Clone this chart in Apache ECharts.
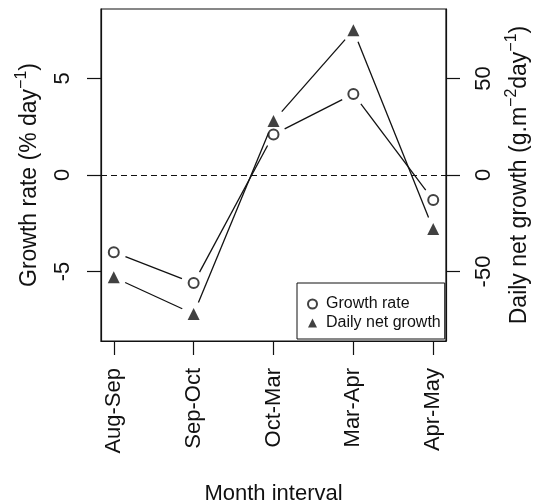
<!DOCTYPE html>
<html><head><meta charset="utf-8">
<script src="https://cdn.jsdelivr.net/npm/echarts@6/dist/echarts.min.js"></script>
<style>html,body{margin:0;padding:0;background:#fff}#c{width:537px;height:504px}</style>
</head><body><div id="c"></div>
<script>
var categories = ['Aug-Sep','Sep-Oct','Oct-Mar','Mar-Apr','Apr-May'];
var growthRate = [-4.0, -5.6, 2.1, 4.2, -1.3];
var dailyNetGrowth = [-53, -72, 28, 75, -28];
var leftTicks = [-5, 0, 5];
var rightTicks = [-50, 0, 50];
var catTicks = [0, 1, 2, 3, 4];

var FONT = 'Liberation Sans, Arial, sans-serif';
var INK = '#111';

function segs(v){ var out=[]; for (var i=0;i<v.length-1;i++) out.push([i, v[i], i+1, v[i+1]]); return out; }
function pts(v){ return v.map(function(y,i){ return [i,y]; }); }
function gapLine(params, api){
  var p1 = api.coord([api.value(0), api.value(1)]);
  var p2 = api.coord([api.value(2), api.value(3)]);
  var dx=p2[0]-p1[0], dy=p2[1]-p1[1], L=Math.sqrt(dx*dx+dy*dy), g=12.5;
  if (L <= 2*g) return null;
  var ux=dx/L, uy=dy/L;
  return {type:'line', shape:{x1:p1[0]+ux*g, y1:p1[1]+uy*g, x2:p2[0]-ux*g, y2:p2[1]-uy*g},
          style:{stroke:INK, lineWidth:1.3}};
}
var supRich = {sup:{fontSize:16, fontFamily:FONT, color:INK, verticalAlign:'top', padding:[0,0,15,0]}};

var chart = echarts.init(document.getElementById('c'), null, {renderer:'canvas'});
chart.setOption({
  animation:false,
  textStyle:{fontFamily:FONT, color:INK},
  grid:{left:101, top:9, right:91, bottom:163, outerBoundsMode:'none', containLabel:false,
        show:true, borderColor:INK, borderWidth:1.2, backgroundColor:'transparent'},
  legend:{
    left:297, top:283, orient:'vertical', itemGap:3, itemWidth:9, itemHeight:9,
    padding:[13,4,8,10], borderColor:INK, borderWidth:1, backgroundColor:'#fff',
    textStyle:{fontFamily:FONT, fontSize:16, color:INK, padding:[0,0,0,4]},
    data:[{name:'Growth rate', icon:'emptyCircle'},{name:'Daily net growth', icon:'triangle'}]
  },
  xAxis:{
    type:'value', min:-0.16, max:4.16,
    name:'Month interval', nameLocation:'middle', nameGap:142,
    nameTextStyle:{fontFamily:FONT, fontSize:22, color:INK},
    axisLine:{show:true, onZero:false, lineStyle:{color:INK, width:1.2}},
    axisTick:{show:true, length:14, customValues:catTicks, lineStyle:{color:INK, width:1.2}},
    axisLabel:{customValues:catTicks, rotate:90, margin:27, fontSize:22, color:INK, fontFamily:FONT,
      formatter:function(v){ return categories[Math.round(v)]; }},
    splitLine:{show:false}
  },
  yAxis:[{
    type:'value', min:-8.6, max:8.6, position:'left',
    name:'Growth rate (% day{sup|\u22121})', nameLocation:'middle', nameGap:56, nameRotate:90,
    nameTextStyle:{fontFamily:FONT, fontSize:23, color:INK, rich:supRich},
    axisLine:{show:true, onZero:false, lineStyle:{color:INK, width:1.2}},
    axisTick:{show:true, length:14, customValues:leftTicks, lineStyle:{color:INK, width:1.2}},
    axisLabel:{customValues:leftTicks, rotate:90, margin:27, fontSize:22, color:INK, fontFamily:FONT},
    splitLine:{show:false}
  },{
    type:'value', min:-86, max:86, position:'right',
    name:'Daily net growth (g.m{sup|\u22122}day{sup|\u22121})', nameLocation:'middle', nameGap:58, nameRotate:90,
    nameTextStyle:{fontFamily:FONT, fontSize:23, color:INK, rich:supRich},
    axisLine:{show:true, onZero:false, lineStyle:{color:INK, width:1.2}},
    axisTick:{show:true, length:14, customValues:rightTicks, lineStyle:{color:INK, width:1.2}},
    axisLabel:{customValues:rightTicks, rotate:90, margin:27, fontSize:22, color:INK, fontFamily:FONT},
    splitLine:{show:false}
  }],
  series:[
    {type:'custom', xAxisIndex:0, yAxisIndex:0, data:segs(growthRate), renderItem:gapLine,
     encode:{x:[0,2], y:[1,3]}, silent:true, z:2},
    {type:'custom', xAxisIndex:0, yAxisIndex:1, data:segs(dailyNetGrowth), renderItem:gapLine,
     encode:{x:[0,2], y:[1,3]}, silent:true, z:2},
    {name:'Growth rate', type:'scatter', xAxisIndex:0, yAxisIndex:0, data:pts(growthRate),
     symbol:'emptyCircle', symbolSize:10, z:3,
     itemStyle:{color:INK, borderColor:INK, borderWidth:1.2},
     markLine:{silent:true, symbol:'none', label:{show:false},
       lineStyle:{color:INK, type:[6,4], width:1.2}, data:[{yAxis:0}]}},
    {name:'Daily net growth', type:'scatter', xAxisIndex:0, yAxisIndex:1, data:pts(dailyNetGrowth),
     symbol:'triangle', symbolSize:12, z:3, itemStyle:{color:INK}}
  ]
});
</script></body></html>
